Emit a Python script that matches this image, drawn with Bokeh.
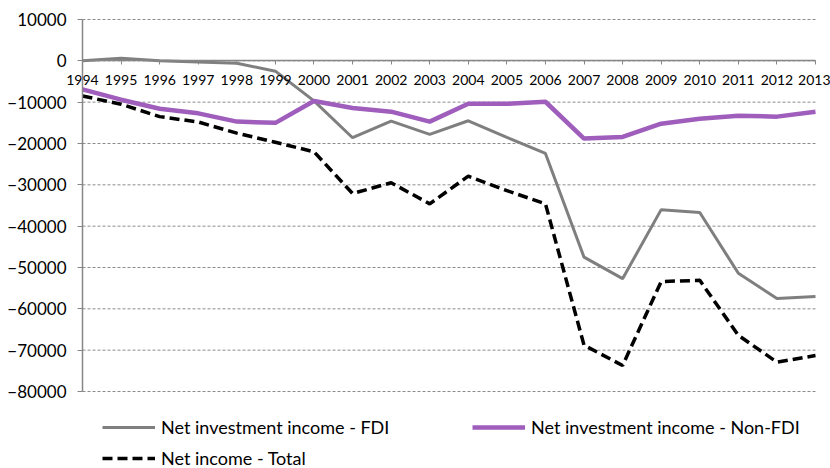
from bokeh.plotting import figure
from bokeh.models import Range1d, FixedTicker, Legend, LegendItem, BasicTickFormatter
from bokeh.embed import file_html
from bokeh.resources import INLINE

years = list(range(1994, 2014))
fdi = [0, 600, 0, -300, -600, -2500, -9700, -18600, -14600, -17800, -14500,
       -18500, -22400, -47500, -52700, -36000, -36700, -51400, -57500, -57000]
non_fdi = [-6900, -9400, -11600, -12700, -14700, -15000, -9700, -11400, -12300,
           -14700, -10400, -10400, -9900, -18800, -18400, -15200, -14000, -13300,
           -13500, -12300]
total = [-8500, -10500, -13500, -14800, -17500, -19700, -22000, -32100, -29500,
         -34600, -27900, -31400, -34600, -68800, -73700, -53400, -53100, -66400,
         -72900, -71300]
y_ticks = [10000, 0, -10000, -20000, -30000, -40000, -50000, -60000, -70000, -80000]
labels = ["Net investment income - FDI", "Net investment income - Non-FDI",
          "Net income - Total"]

FONT = "Lato"
W, H = 830, 468
# pixel placement of the plotting area inside the canvas
left_px, right_px, top_px, bottom_px = 82, 815, 19, 391
x_lo, x_hi = years[0], years[-1]
y_hi, y_lo = max(y_ticks), min(y_ticks)
sx = (right_px - left_px) / (x_hi - x_lo)
sy = (bottom_px - top_px) / (y_hi - y_lo)
x_range = Range1d(x_lo - left_px / sx, x_hi + (W - right_px) / sx)
y_range = Range1d(y_lo - (H - bottom_px) / sy, y_hi + top_px / sy)

p = figure(width=W, height=H, output_backend="svg", toolbar_location=None,
           x_range=x_range, y_range=y_range,
           min_border_left=0, min_border_right=0, min_border_top=0,
           min_border_bottom=0)
p.outline_line_color = None
p.background_fill_color = "white"
p.border_fill_color = "white"
p.xgrid.visible = False
p.ygrid.visible = False

# dashed horizontal gridlines limited to the data extent
n = len(y_ticks)
p.segment(x0=[x_lo] * n, x1=[x_hi] * n, y0=y_ticks, y1=y_ticks,
          line_color="#8c8c8c", line_dash="3 2", line_width=1)

r_fdi = p.line(years, fdi, line_color="#7f7f7f", line_width=3)
r_non = p.line(years, non_fdi, line_color="#9f5dbc", line_width=4.5)
r_tot = p.line(years, total, line_color="black", line_width=3.5, line_dash="10 5")

# axes
xa = p.xaxis[0]
xa.fixed_location = 0
xa.bounds = (x_lo, x_hi)
xa.ticker = FixedTicker(ticks=years)
xa.axis_line_color = "#868686"
xa.axis_line_width = 1.5
xa.major_tick_line_color = "#868686"
xa.major_tick_out = 4
xa.major_tick_in = 0
xa.minor_tick_line_color = None
xa.major_label_text_font = FONT
xa.major_label_text_font_size = "14px"
xa.major_label_text_color = "black"
xa.major_label_standoff = 10

ya = p.yaxis[0]
ya.fixed_location = x_lo
ya.bounds = (y_lo, y_hi)
ya.ticker = FixedTicker(ticks=y_ticks)
ya.formatter = BasicTickFormatter(use_scientific=False)
ya.axis_line_color = "#868686"
ya.axis_line_width = 1.5
ya.major_tick_line_color = "#868686"
ya.major_tick_out = 5
ya.major_tick_in = 0
ya.minor_tick_line_color = None
ya.major_label_text_font = FONT
ya.major_label_text_font_size = "17px"
ya.major_label_text_color = "black"
ya.major_label_standoff = 11

def add_leg(label, rend, x, y):
    lg = Legend(items=[LegendItem(label=label, renderers=[rend])],
                location=(x, y), padding=0, margin=0, spacing=0,
                glyph_width=53, glyph_height=20, label_standoff=6,
                label_text_font=FONT, label_text_font_size="18px",
                label_text_color="black", label_height=20,
                border_line_color=None, background_fill_alpha=0)
    p.add_layout(lg, "center")

add_leg(labels[0], r_fdi, 102, 30)
add_leg(labels[1], r_non, 472, 30)
add_leg(labels[2], r_tot, 102, -1)

open("out.html", "w").write(file_html(p, INLINE))
